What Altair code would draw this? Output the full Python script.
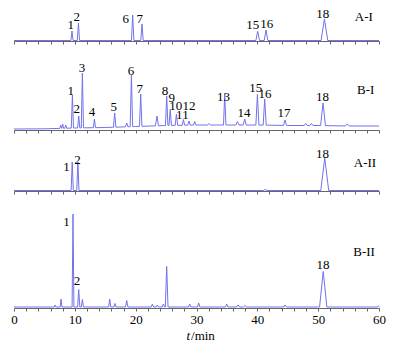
import altair as alt
import numpy as np
import pandas as pd

# ---------------- data ----------------
# peak tables: retention time (min), apex height (px above panel axis), half base width (min)
AI_T = [9.53, 10.59, 19.51, 21.04, 40.06, 41.43, 51.03]
AI_H = [10, 18, 26, 17, 9.6, 11, 22]
AI_W = [0.18, 0.18, 0.2, 0.2, 0.3, 0.3, 0.55]
AI_BASE_T = [0, 60]
AI_BASE_Y = [0.5, 0.5]

BI_T = [7.68, 8.0, 8.5, 9.6, 10.64, 11.24, 13.22, 16.55, 18.53, 19.3, 20.83, 23.5,
        25.1, 25.68, 26.7, 27.85, 28.77, 29.7, 32.06, 34.64, 36.73, 37.93, 40.01,
        41.21, 44.55, 47.95, 48.89, 50.8, 54.8]
BI_H = [5, 6, 5, 35, 14, 57, 11, 17, 7, 55, 36, 14,
        34, 20.5, 16, 10.5, 9, 8.5, 6.5, 36, 8.5, 11, 35.5,
        31, 10, 6.5, 6.5, 27, 6]
BI_W = [0.15, 0.15, 0.15, 0.18, 0.18, 0.18, 0.18, 0.2, 0.2, 0.2, 0.2, 0.25,
        0.2, 0.2, 0.2, 0.2, 0.2, 0.2, 0.25, 0.2, 0.25, 0.25, 0.25,
        0.25, 0.25, 0.25, 0.25, 0.4, 0.3]
BI_BASE_T = [0, 5, 10, 15, 20, 25, 30, 35, 40, 45, 50, 55, 60]
BI_BASE_Y = [1, 1.2, 2, 2.5, 3.5, 4.5, 5, 5, 5, 4.5, 4.5, 4, 4]

AII_T = [9.57, 10.5, 41.3, 51.08]
AII_H = [29, 29, 1.5, 33]
AII_W = [0.18, 0.18, 0.3, 0.65]
AII_BASE_T = [0, 60]
AII_BASE_Y = [0.5, 0.5]

BII_T = [6.74, 7.73, 9.7, 10.64, 11.24, 15.73, 16.6, 18.53, 22.75, 23.57, 24.56,
         25.1, 28.88, 30.36, 34.97, 36.82, 37.97, 44.55, 50.83, 59.9]
BII_H = [3, 9, 94, 18.5, 8.5, 9, 4.5, 7.5, 4, 3, 4,
         41.6, 4, 5, 4, 3, 2.5, 3, 36.6, 2]
BII_W = [0.15, 0.15, 0.15, 0.18, 0.18, 0.18, 0.18, 0.2, 0.2, 0.2, 0.2,
         0.22, 0.2, 0.2, 0.2, 0.25, 0.25, 0.25, 0.6, 0.2]
BII_BASE_T = [0, 60]
BII_BASE_Y = [1, 1]

# peak labels: text, time position (min), height (px above panel axis)
AI_LAB = ["1", "2", "6", "7", "15", "16", "18", "A-I"]
AI_LX = [9.32, 10.31, 18.36, 20.66, 39.24, 41.54, 50.75, 57.5]
AI_LY = [16, 24, 22, 22, 16, 17, 27, 24]

BI_LAB = ["1", "2", "3", "4", "5", "6", "7", "8", "9", "10", "11", "12",
          "13", "14", "15", "16", "17", "18", "B-I"]
BI_LX = [9.32, 10.31, 11.18, 12.82, 16.39, 19.23, 20.66, 24.82, 25.92, 26.58, 27.68, 28.77,
         34.42, 37.81, 39.73, 41.26, 44.39, 50.7, 57.82]
BI_LY = [39.3, 21, 61.7, 18, 23, 59.3, 41, 39, 31.7, 24.3, 15, 24,
         32.7, 17.3, 42.3, 36.3, 16.7, 32.7, 40]

AII_LAB = ["1", "2", "18", "A-II"]
AII_LX = [8.61, 10.42, 50.7, 57.7]
AII_LY = [24.3, 31, 37, 27.7]

BII_LAB = ["1", "2", "18", "B-II"]
BII_LX = [8.61, 10.36, 50.8, 57.54]
BII_LY = [85.6, 26.6, 43.3, 55.6]

X_TICKS = list(range(0, 61, 2))
X_DOMAIN = [0, 60]

LINE_COLOR = "#7272ee"
AXIS_COLOR = "#666666"
FONT = "Times New Roman, Liberation Serif, serif"
PLOT_W = 365


def trace_df(pt, ph, pw, bt, by):
    xs, ys = [], []
    for t, y in zip(bt, by):
        if all(abs(t - p) > w for p, w in zip(pt, pw)):
            xs.append(t)
            ys.append(y)
    for t, h, w in zip(pt, ph, pw):
        xs += [t - w, t, t + w]
        ys += [float(np.interp(t - w, bt, by)), h, float(np.interp(t + w, bt, by))]
    df = pd.DataFrame({"t": xs, "v": ys}).sort_values("t").reset_index(drop=True)
    df["i"] = range(len(df))
    return df


def panel(df, labels, height, bottom=False):
    axis = alt.Axis(values=X_TICKS, tickSize=3, labels=bottom, title=None, grid=False,
                    domainColor=AXIS_COLOR, tickColor=AXIS_COLOR,
                    labelExpr="datum.value % 10 == 0 ? datum.label : ''",
                    labelFont=FONT, labelFontSize=13, labelColor="black",
                    labelPadding=2, labelFlush=False, labelOverlap=False)
    x = alt.X("t:Q", scale=alt.Scale(domain=X_DOMAIN, nice=False, zero=False), axis=axis)
    y = alt.Y("v:Q", scale=alt.Scale(domain=[0, height], nice=False, zero=False), axis=None)
    line = alt.Chart(df).mark_line(color=LINE_COLOR, strokeWidth=1).encode(
        x=x, y=y, order="i:Q")
    text = alt.Chart(labels).mark_text(font=FONT, fontSize=13, color="black",
                                       baseline="middle", align="center").encode(
        x=x, y=y, text="s:N")
    layers = [line, text]
    if bottom:
        tdf = pd.DataFrame({"t": [28.95], "v": [-27.7], "s": ["t"]})
        mdf = pd.DataFrame({"t": [29.1], "v": [-27.7], "s": ["/min"]})
        layers.append(alt.Chart(tdf).mark_text(font=FONT, fontSize=13, color="black",
                                               fontStyle="italic", baseline="middle",
                                               align="right").encode(x=x, y=y, text="s:N"))
        layers.append(alt.Chart(mdf).mark_text(font=FONT, fontSize=13, color="black",
                                               baseline="middle", align="left").encode(
            x=x, y=y, text="s:N"))
    return alt.layer(*layers).properties(width=PLOT_W, height=height)


def lab_df(s, lx, ly):
    return pd.DataFrame({"s": s, "t": lx, "v": ly})


p1 = panel(trace_df(AI_T, AI_H, AI_W, AI_BASE_T, AI_BASE_Y), lab_df(AI_LAB, AI_LX, AI_LY), 39)
p2 = panel(trace_df(BI_T, BI_H, BI_W, BI_BASE_T, BI_BASE_Y), lab_df(BI_LAB, BI_LX, BI_LY), 86)
p3 = panel(trace_df(AII_T, AII_H, AII_W, AII_BASE_T, AII_BASE_Y), lab_df(AII_LAB, AII_LX, AII_LY), 58)
p4 = panel(trace_df(BII_T, BII_H, BII_W, BII_BASE_T, BII_BASE_Y), lab_df(BII_LAB, BII_LX, BII_LY), 114,
           bottom=True)

chart = alt.vconcat(p1, p2, p3, p4, spacing=3, bounds="flush").properties(
    padding={"left": 10, "top": 2, "right": 5, "bottom": 3}
).configure_view(stroke=None)

chart.save("out.html", embed_options={"renderer": "svg", "actions": False})
